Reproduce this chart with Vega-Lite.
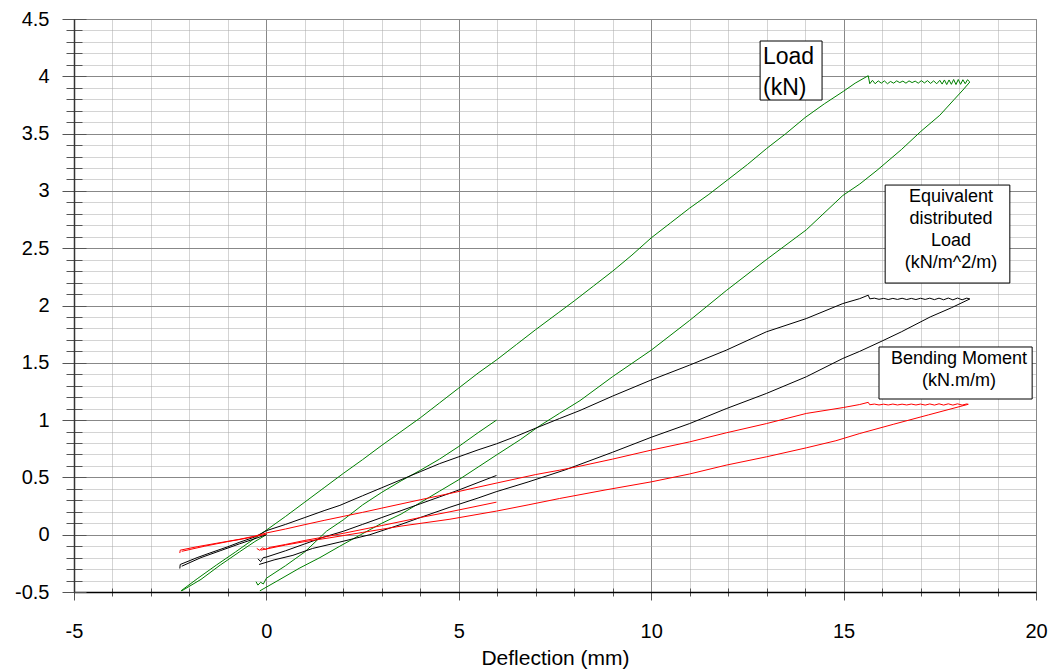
{
  "$schema": "https://vega.github.io/schema/vega-lite/v6.json",
  "width": 962,
  "height": 573,
  "autosize": {"type": "none"},
  "padding": {"left": 74, "top": 19, "right": 14, "bottom": 79},
  "background": "white",
  "config": {
    "view": {"stroke": "#888888"},
    "axis": {"labelFont": "Liberation Sans", "titleFont": "Liberation Sans", "labelColor": "#000000", "titleColor": "#000000", "tickColor": "#555555", "labelFlush": false, "labelOverlap": false}
  },
  "datasets": {
    "boxes": [
      {"x1": 12.83, "x2": 14.44, "y1": 4.308, "y2": 3.793},
      {"x1": 16.08, "x2": 19.32, "y1": 3.051, "y2": 2.196},
      {"x1": 15.92, "x2": 19.9, "y1": 1.638, "y2": 1.184}
    ],
    "load": [{"x": 12.905, "y": 4.168, "t": "Load\n(kN)"}],
    "notes": [
      {"x": 17.79, "y": 2.947, "t": "Equivalent\ndistributed\nLoad\n(kN/m^2/m)"},
      {"x": 18.0, "y": 1.533, "t": "Bending Moment\n(kN.m/m)"}
    ],
    "curves": [
      {"s":"Load","g":"G1","x":-2.22,"y":-0.49},{"s":"Load","g":"G1","x":-1.8,"y":-0.385},{"s":"Load","g":"G1","x":-1.3,"y":-0.265},{"s":"Load","g":"G1","x":-0.8,"y":-0.15},{"s":"Load","g":"G1","x":-0.4,"y":-0.055},{"s":"Load","g":"G1","x":0,"y":0.04},{"s":"Load","g":"G1","x":0.5,"y":0.16},{"s":"Load","g":"G1","x":1,"y":0.285},{"s":"Load","g":"G1","x":1.5,"y":0.41},{"s":"Load","g":"G1","x":2,"y":0.535},{"s":"Load","g":"G1","x":2.5,"y":0.655},{"s":"Load","g":"G1","x":3,"y":0.78},{"s":"Load","g":"G1","x":3.5,"y":0.9},{"s":"Load","g":"G1","x":4,"y":1.02},{"s":"Load","g":"G1","x":4.5,"y":1.15},{"s":"Load","g":"G1","x":5,"y":1.28},{"s":"Load","g":"G1","x":5.5,"y":1.41},{"s":"Load","g":"G1","x":6,"y":1.53},{"s":"Load","g":"G1","x":6.5,"y":1.66},{"s":"Load","g":"G1","x":7,"y":1.79},{"s":"Load","g":"G1","x":7.6,"y":1.94},{"s":"Load","g":"G1","x":8,"y":2.04},{"s":"Load","g":"G1","x":8.5,"y":2.17},{"s":"Load","g":"G1","x":9,"y":2.3},{"s":"Load","g":"G1","x":9.5,"y":2.44},{"s":"Load","g":"G1","x":10,"y":2.59},{"s":"Load","g":"G1","x":10.5,"y":2.72},{"s":"Load","g":"G1","x":11,"y":2.85},{"s":"Load","g":"G1","x":11.5,"y":2.97},{"s":"Load","g":"G1","x":12,"y":3.1},{"s":"Load","g":"G1","x":12.5,"y":3.23},{"s":"Load","g":"G1","x":13,"y":3.37},{"s":"Load","g":"G1","x":13.5,"y":3.5},{"s":"Load","g":"G1","x":14,"y":3.64},{"s":"Load","g":"G1","x":14.5,"y":3.76},{"s":"Load","g":"G1","x":15,"y":3.87},{"s":"Load","g":"G1","x":15.3,"y":3.94},{"s":"Load","g":"G1","x":15.64,"y":4.005},
      {"s":"Load","g":"G1","x":15.68,"y":3.935},{"s":"Load","g":"G1","x":15.75,"y":3.965},{"s":"Load","g":"G1","x":15.82,"y":3.935},{"s":"Load","g":"G1","x":15.9,"y":3.96},{"s":"Load","g":"G1","x":15.98,"y":3.94},{"s":"Load","g":"G1","x":16.06,"y":3.96},{"s":"Load","g":"G1","x":16.14,"y":3.935},{"s":"Load","g":"G1","x":16.22,"y":3.955},{"s":"Load","g":"G1","x":16.3,"y":3.94},{"s":"Load","g":"G1","x":16.38,"y":3.96},{"s":"Load","g":"G1","x":16.46,"y":3.945},{"s":"Load","g":"G1","x":16.54,"y":3.958},{"s":"Load","g":"G1","x":16.62,"y":3.94},{"s":"Load","g":"G1","x":16.7,"y":3.96},{"s":"Load","g":"G1","x":16.78,"y":3.945},{"s":"Load","g":"G1","x":16.86,"y":3.958},{"s":"Load","g":"G1","x":16.94,"y":3.94},{"s":"Load","g":"G1","x":17.02,"y":3.962},{"s":"Load","g":"G1","x":17.1,"y":3.942},{"s":"Load","g":"G1","x":17.18,"y":3.962},{"s":"Load","g":"G1","x":17.26,"y":3.938},{"s":"Load","g":"G1","x":17.34,"y":3.96},{"s":"Load","g":"G1","x":17.42,"y":3.935},{"s":"Load","g":"G1","x":17.5,"y":3.965},{"s":"Load","g":"G1","x":17.56,"y":3.932},{"s":"Load","g":"G1","x":17.62,"y":3.968},{"s":"Load","g":"G1","x":17.68,"y":3.928},{"s":"Load","g":"G1","x":17.74,"y":3.968},{"s":"Load","g":"G1","x":17.8,"y":3.93},{"s":"Load","g":"G1","x":17.86,"y":3.972},{"s":"Load","g":"G1","x":17.92,"y":3.928},{"s":"Load","g":"G1","x":17.98,"y":3.972},{"s":"Load","g":"G1","x":18.04,"y":3.93},{"s":"Load","g":"G1","x":18.1,"y":3.97},{"s":"Load","g":"G1","x":18.16,"y":3.935},{"s":"Load","g":"G1","x":18.22,"y":3.97},{"s":"Load","g":"G1","x":18.28,"y":3.95},
      {"s":"Load","g":"G2","x":-2.2,"y":-0.49},{"s":"Load","g":"G2","x":-1.7,"y":-0.39},{"s":"Load","g":"G2","x":-1.2,"y":-0.265},{"s":"Load","g":"G2","x":-0.7,"y":-0.15},{"s":"Load","g":"G2","x":-0.3,"y":-0.06},{"s":"Load","g":"G2","x":0,"y":0.0},
      {"s":"Load","g":"G3","x":-0.17,"y":-0.49},{"s":"Load","g":"G3","x":0.3,"y":-0.4},{"s":"Load","g":"G3","x":0.87,"y":-0.29},{"s":"Load","g":"G3","x":1.39,"y":-0.2},{"s":"Load","g":"G3","x":1.91,"y":-0.1},{"s":"Load","g":"G3","x":2.45,"y":0.0},{"s":"Load","g":"G3","x":3,"y":0.1},{"s":"Load","g":"G3","x":3.5,"y":0.18},{"s":"Load","g":"G3","x":4,"y":0.28},{"s":"Load","g":"G3","x":4.5,"y":0.38},{"s":"Load","g":"G3","x":5,"y":0.48},{"s":"Load","g":"G3","x":5.5,"y":0.59},{"s":"Load","g":"G3","x":6,"y":0.7},{"s":"Load","g":"G3","x":6.6,"y":0.83},{"s":"Load","g":"G3","x":7.1,"y":0.95},{"s":"Load","g":"G3","x":7.62,"y":1.06},{"s":"Load","g":"G3","x":8.15,"y":1.17},{"s":"Load","g":"G3","x":9,"y":1.38},{"s":"Load","g":"G3","x":10,"y":1.61},{"s":"Load","g":"G3","x":11,"y":1.87},{"s":"Load","g":"G3","x":11.95,"y":2.13},{"s":"Load","g":"G3","x":12.99,"y":2.4},{"s":"Load","g":"G3","x":14.03,"y":2.66},{"s":"Load","g":"G3","x":14.98,"y":2.96},{"s":"Load","g":"G3","x":15.42,"y":3.06},{"s":"Load","g":"G3","x":15.87,"y":3.18},{"s":"Load","g":"G3","x":16.5,"y":3.36},{"s":"Load","g":"G3","x":17.01,"y":3.52},{"s":"Load","g":"G3","x":17.5,"y":3.66},{"s":"Load","g":"G3","x":17.88,"y":3.8},{"s":"Load","g":"G3","x":18.1,"y":3.88},{"s":"Load","g":"G3","x":18.28,"y":3.95},
      {"s":"Load","g":"G4","x":-0.27,"y":-0.41},{"s":"Load","g":"G4","x":-0.22,"y":-0.44},{"s":"Load","g":"G4","x":-0.15,"y":-0.415},{"s":"Load","g":"G4","x":-0.08,"y":-0.43},{"s":"Load","g":"G4","x":0,"y":-0.38},{"s":"Load","g":"G4","x":0.5,"y":-0.27},{"s":"Load","g":"G4","x":1,"y":-0.15},{"s":"Load","g":"G4","x":1.56,"y":0.03},{"s":"Load","g":"G4","x":2,"y":0.13},{"s":"Load","g":"G4","x":2.5,"y":0.26},{"s":"Load","g":"G4","x":3,"y":0.37},{"s":"Load","g":"G4","x":3.5,"y":0.47},{"s":"Load","g":"G4","x":3.99,"y":0.56},{"s":"Load","g":"G4","x":4.5,"y":0.66},{"s":"Load","g":"G4","x":5,"y":0.77},{"s":"Load","g":"G4","x":5.5,"y":0.89},{"s":"Load","g":"G4","x":5.98,"y":1.0},
      {"s":"Equivalent","g":"B1","x":-2.25,"y":-0.295},{"s":"Equivalent","g":"B1","x":-2.24,"y":-0.26},{"s":"Equivalent","g":"B1","x":-1.8,"y":-0.2},{"s":"Equivalent","g":"B1","x":-1.47,"y":-0.16},{"s":"Equivalent","g":"B1","x":-1,"y":-0.105},{"s":"Equivalent","g":"B1","x":-0.69,"y":-0.065},{"s":"Equivalent","g":"B1","x":-0.3,"y":-0.02},{"s":"Equivalent","g":"B1","x":0,"y":0.035},{"s":"Equivalent","g":"B1","x":0.5,"y":0.09},{"s":"Equivalent","g":"B1","x":1,"y":0.15},{"s":"Equivalent","g":"B1","x":1.5,"y":0.21},{"s":"Equivalent","g":"B1","x":1.91,"y":0.256},{"s":"Equivalent","g":"B1","x":2.5,"y":0.34},{"s":"Equivalent","g":"B1","x":3,"y":0.41},{"s":"Equivalent","g":"B1","x":3.5,"y":0.48},{"s":"Equivalent","g":"B1","x":4,"y":0.55},{"s":"Equivalent","g":"B1","x":4.5,"y":0.62},{"s":"Equivalent","g":"B1","x":5,"y":0.68},{"s":"Equivalent","g":"B1","x":5.5,"y":0.74},{"s":"Equivalent","g":"B1","x":5.98,"y":0.793},{"s":"Equivalent","g":"B1","x":6.5,"y":0.86},{"s":"Equivalent","g":"B1","x":7,"y":0.93},{"s":"Equivalent","g":"B1","x":7.62,"y":1.014},{"s":"Equivalent","g":"B1","x":8.15,"y":1.084},{"s":"Equivalent","g":"B1","x":9,"y":1.21},{"s":"Equivalent","g":"B1","x":10,"y":1.35},{"s":"Equivalent","g":"B1","x":11,"y":1.48},{"s":"Equivalent","g":"B1","x":11.95,"y":1.61},{"s":"Equivalent","g":"B1","x":12.99,"y":1.77},{"s":"Equivalent","g":"B1","x":14.03,"y":1.886},{"s":"Equivalent","g":"B1","x":14.98,"y":2.017},{"s":"Equivalent","g":"B1","x":15.42,"y":2.06},{"s":"Equivalent","g":"B1","x":15.64,"y":2.09},
      {"s":"Equivalent","g":"B1","x":15.68,"y":2.058},{"s":"Equivalent","g":"B1","x":15.8,"y":2.064},{"s":"Equivalent","g":"B1","x":15.92,"y":2.054},{"s":"Equivalent","g":"B1","x":16.04,"y":2.062},{"s":"Equivalent","g":"B1","x":16.16,"y":2.052},{"s":"Equivalent","g":"B1","x":16.28,"y":2.062},{"s":"Equivalent","g":"B1","x":16.4,"y":2.053},{"s":"Equivalent","g":"B1","x":16.52,"y":2.063},{"s":"Equivalent","g":"B1","x":16.64,"y":2.052},{"s":"Equivalent","g":"B1","x":16.76,"y":2.062},{"s":"Equivalent","g":"B1","x":16.88,"y":2.052},{"s":"Equivalent","g":"B1","x":17,"y":2.063},{"s":"Equivalent","g":"B1","x":17.12,"y":2.053},{"s":"Equivalent","g":"B1","x":17.24,"y":2.064},{"s":"Equivalent","g":"B1","x":17.36,"y":2.051},{"s":"Equivalent","g":"B1","x":17.48,"y":2.064},{"s":"Equivalent","g":"B1","x":17.6,"y":2.05},{"s":"Equivalent","g":"B1","x":17.72,"y":2.065},{"s":"Equivalent","g":"B1","x":17.84,"y":2.049},{"s":"Equivalent","g":"B1","x":17.96,"y":2.065},{"s":"Equivalent","g":"B1","x":18.08,"y":2.05},{"s":"Equivalent","g":"B1","x":18.2,"y":2.064},{"s":"Equivalent","g":"B1","x":18.28,"y":2.057},
      {"s":"Equivalent","g":"B2","x":-2.2,"y":-0.275},{"s":"Equivalent","g":"B2","x":-1.7,"y":-0.2},{"s":"Equivalent","g":"B2","x":-1.2,"y":-0.14},{"s":"Equivalent","g":"B2","x":-0.7,"y":-0.08},{"s":"Equivalent","g":"B2","x":-0.3,"y":-0.035},{"s":"Equivalent","g":"B2","x":0,"y":0.0},
      {"s":"Equivalent","g":"B3","x":-0.19,"y":-0.26},{"s":"Equivalent","g":"B3","x":0.2,"y":-0.22},{"s":"Equivalent","g":"B3","x":0.69,"y":-0.18},{"s":"Equivalent","g":"B3","x":1.2,"y":-0.12},{"s":"Equivalent","g":"B3","x":1.91,"y":-0.064},{"s":"Equivalent","g":"B3","x":2.69,"y":0.0},{"s":"Equivalent","g":"B3","x":3.5,"y":0.09},{"s":"Equivalent","g":"B3","x":4,"y":0.15},{"s":"Equivalent","g":"B3","x":4.77,"y":0.24},{"s":"Equivalent","g":"B3","x":5.5,"y":0.32},{"s":"Equivalent","g":"B3","x":5.97,"y":0.375},{"s":"Equivalent","g":"B3","x":6.8,"y":0.46},{"s":"Equivalent","g":"B3","x":7.76,"y":0.565},{"s":"Equivalent","g":"B3","x":9,"y":0.72},{"s":"Equivalent","g":"B3","x":10,"y":0.85},{"s":"Equivalent","g":"B3","x":11,"y":0.97},{"s":"Equivalent","g":"B3","x":11.95,"y":1.1},{"s":"Equivalent","g":"B3","x":12.99,"y":1.232},{"s":"Equivalent","g":"B3","x":14.03,"y":1.378},{"s":"Equivalent","g":"B3","x":14.98,"y":1.538},{"s":"Equivalent","g":"B3","x":15.42,"y":1.6},{"s":"Equivalent","g":"B3","x":16,"y":1.69},{"s":"Equivalent","g":"B3","x":16.5,"y":1.77},{"s":"Equivalent","g":"B3","x":17.25,"y":1.9},{"s":"Equivalent","g":"B3","x":17.8,"y":1.98},{"s":"Equivalent","g":"B3","x":18.28,"y":2.057},
      {"s":"Equivalent","g":"B4","x":-0.22,"y":-0.21},{"s":"Equivalent","g":"B4","x":-0.15,"y":-0.235},{"s":"Equivalent","g":"B4","x":-0.08,"y":-0.2},{"s":"Equivalent","g":"B4","x":0,"y":-0.195},{"s":"Equivalent","g":"B4","x":0.5,"y":-0.14},{"s":"Equivalent","g":"B4","x":1,"y":-0.08},{"s":"Equivalent","g":"B4","x":1.5,"y":-0.02},{"s":"Equivalent","g":"B4","x":2,"y":0.03},{"s":"Equivalent","g":"B4","x":2.5,"y":0.09},{"s":"Equivalent","g":"B4","x":3,"y":0.15},{"s":"Equivalent","g":"B4","x":3.5,"y":0.21},{"s":"Equivalent","g":"B4","x":4,"y":0.27},{"s":"Equivalent","g":"B4","x":4.5,"y":0.33},{"s":"Equivalent","g":"B4","x":5,"y":0.39},{"s":"Equivalent","g":"B4","x":5.5,"y":0.455},{"s":"Equivalent","g":"B4","x":5.98,"y":0.517},
      {"s":"Bending","g":"R1","x":-2.25,"y":-0.16},{"s":"Bending","g":"R1","x":-2.24,"y":-0.135},{"s":"Bending","g":"R1","x":-1.8,"y":-0.105},{"s":"Bending","g":"R1","x":-1.3,"y":-0.075},{"s":"Bending","g":"R1","x":-0.7,"y":-0.04},{"s":"Bending","g":"R1","x":-0.3,"y":-0.012},{"s":"Bending","g":"R1","x":0,"y":0.015},{"s":"Bending","g":"R1","x":0.5,"y":0.05},{"s":"Bending","g":"R1","x":1,"y":0.088},{"s":"Bending","g":"R1","x":1.5,"y":0.125},{"s":"Bending","g":"R1","x":2,"y":0.16},{"s":"Bending","g":"R1","x":2.5,"y":0.195},{"s":"Bending","g":"R1","x":3,"y":0.232},{"s":"Bending","g":"R1","x":4,"y":0.305},{"s":"Bending","g":"R1","x":4.77,"y":0.36},{"s":"Bending","g":"R1","x":5.5,"y":0.415},{"s":"Bending","g":"R1","x":6,"y":0.452},{"s":"Bending","g":"R1","x":7,"y":0.525},{"s":"Bending","g":"R1","x":7.62,"y":0.563},{"s":"Bending","g":"R1","x":8.15,"y":0.598},{"s":"Bending","g":"R1","x":9,"y":0.66},{"s":"Bending","g":"R1","x":10,"y":0.738},{"s":"Bending","g":"R1","x":11,"y":0.81},{"s":"Bending","g":"R1","x":11.95,"y":0.889},{"s":"Bending","g":"R1","x":13,"y":0.97},{"s":"Bending","g":"R1","x":14.03,"y":1.058},{"s":"Bending","g":"R1","x":15,"y":1.11},{"s":"Bending","g":"R1","x":15.42,"y":1.136},{"s":"Bending","g":"R1","x":15.64,"y":1.155},
      {"s":"Bending","g":"R1","x":15.68,"y":1.134},{"s":"Bending","g":"R1","x":15.8,"y":1.14},{"s":"Bending","g":"R1","x":15.92,"y":1.132},{"s":"Bending","g":"R1","x":16.04,"y":1.139},{"s":"Bending","g":"R1","x":16.16,"y":1.132},{"s":"Bending","g":"R1","x":16.28,"y":1.14},{"s":"Bending","g":"R1","x":16.4,"y":1.132},{"s":"Bending","g":"R1","x":16.52,"y":1.139},{"s":"Bending","g":"R1","x":16.64,"y":1.132},{"s":"Bending","g":"R1","x":16.76,"y":1.14},{"s":"Bending","g":"R1","x":16.88,"y":1.132},{"s":"Bending","g":"R1","x":17,"y":1.14},{"s":"Bending","g":"R1","x":17.12,"y":1.131},{"s":"Bending","g":"R1","x":17.24,"y":1.141},{"s":"Bending","g":"R1","x":17.36,"y":1.131},{"s":"Bending","g":"R1","x":17.48,"y":1.142},{"s":"Bending","g":"R1","x":17.6,"y":1.131},{"s":"Bending","g":"R1","x":17.72,"y":1.142},{"s":"Bending","g":"R1","x":17.84,"y":1.131},{"s":"Bending","g":"R1","x":17.96,"y":1.142},{"s":"Bending","g":"R1","x":18.08,"y":1.131},{"s":"Bending","g":"R1","x":18.2,"y":1.141},{"s":"Bending","g":"R1","x":18.24,"y":1.138},
      {"s":"Bending","g":"R2","x":-2.2,"y":-0.145},{"s":"Bending","g":"R2","x":-1.6,"y":-0.1},{"s":"Bending","g":"R2","x":-1,"y":-0.06},{"s":"Bending","g":"R2","x":-0.5,"y":-0.03},{"s":"Bending","g":"R2","x":0,"y":0.005},
      {"s":"Bending","g":"R3","x":-0.15,"y":-0.135},{"s":"Bending","g":"R3","x":0.5,"y":-0.09},{"s":"Bending","g":"R3","x":1,"y":-0.06},{"s":"Bending","g":"R3","x":1.65,"y":-0.027},{"s":"Bending","g":"R3","x":2.5,"y":0.02},{"s":"Bending","g":"R3","x":3.5,"y":0.075},{"s":"Bending","g":"R3","x":4.77,"y":0.135},{"s":"Bending","g":"R3","x":5.98,"y":0.206},{"s":"Bending","g":"R3","x":6.8,"y":0.26},{"s":"Bending","g":"R3","x":7.62,"y":0.316},{"s":"Bending","g":"R3","x":8.8,"y":0.39},{"s":"Bending","g":"R3","x":10,"y":0.461},{"s":"Bending","g":"R3","x":11,"y":0.53},{"s":"Bending","g":"R3","x":11.95,"y":0.607},{"s":"Bending","g":"R3","x":13,"y":0.68},{"s":"Bending","g":"R3","x":14.03,"y":0.758},{"s":"Bending","g":"R3","x":14.8,"y":0.82},{"s":"Bending","g":"R3","x":15.42,"y":0.883},{"s":"Bending","g":"R3","x":16.29,"y":0.963},{"s":"Bending","g":"R3","x":17.2,"y":1.045},{"s":"Bending","g":"R3","x":18.24,"y":1.138},
      {"s":"Bending","g":"R4","x":-0.25,"y":-0.12},{"s":"Bending","g":"R4","x":-0.18,"y":-0.135},{"s":"Bending","g":"R4","x":-0.1,"y":-0.115},{"s":"Bending","g":"R4","x":-0.02,"y":-0.128},{"s":"Bending","g":"R4","x":0.1,"y":-0.11},{"s":"Bending","g":"R4","x":0.5,"y":-0.085},{"s":"Bending","g":"R4","x":1,"y":-0.05},{"s":"Bending","g":"R4","x":1.5,"y":-0.02},{"s":"Bending","g":"R4","x":2,"y":0.012},{"s":"Bending","g":"R4","x":3,"y":0.08},{"s":"Bending","g":"R4","x":4,"y":0.15},{"s":"Bending","g":"R4","x":4.77,"y":0.2},{"s":"Bending","g":"R4","x":5.98,"y":0.284}
    ]
  },
  "layer": [
    {
      "data": {"name": "boxes"},
      "mark": {"type": "rect", "fill": "white", "stroke": "#000000", "strokeWidth": 1},
      "encoding": {
        "x": {"field": "x1", "type": "quantitative", "scale": {"domain": [-5, 20], "nice": false, "zero": false},
          "axis": {"orient": "bottom", "values": [-4,-3,-2,-1,1,2,3,4,6,7,8,9,11,12,13,14,16,17,18,19], "offset": -4, "tickSize": 8, "labels": false, "domain": false, "title": null, "grid": true, "gridColor": "#a8a8a8", "gridDash": [1, 1]}},
        "x2": {"field": "x2"},
        "y": {"field": "y1", "type": "quantitative", "scale": {"domain": [-0.5, 4.5], "nice": false, "zero": false},
          "axis": {"orient": "left", "values": [-0.4,-0.3,-0.2,-0.1,0.1,0.2,0.3,0.4,0.6,0.7,0.8,0.9,1.1,1.2,1.3,1.4,1.6,1.7,1.8,1.9,2.1,2.2,2.3,2.4,2.6,2.7,2.8,2.9,3.1,3.2,3.3,3.4,3.6,3.7,3.8,3.9,4.1,4.2,4.3,4.4], "offset": -8, "tickSize": 16, "labels": false, "domain": false, "title": null, "grid": true, "gridColor": "#a8a8a8", "gridDash": [1, 1]}},
        "y2": {"field": "y2"}
      }
    },
    {
      "data": {"name": "curves"},
      "mark": {"type": "line", "strokeWidth": 1},
      "encoding": {
        "x": {"field": "x", "type": "quantitative", "scale": {"domain": [-5, 20], "nice": false, "zero": false},
          "axis": {"orient": "bottom", "values": [-5, 0, 5, 10, 15, 20], "offset": 0, "tickSize": 8, "labelPadding": 21, "labelFontSize": 20, "labelExpr": "'' + datum.value", "domain": false, "title": null, "grid": true, "gridColor": "#888888"}},
        "y": {"field": "y", "type": "quantitative", "scale": {"domain": [-0.5, 4.5], "nice": false, "zero": false},
          "axis": {"orient": "left", "values": [-0.5, 0, 0.5, 1, 1.5, 2, 2.5, 3, 3.5, 4, 4.5], "offset": -12, "tickSize": 24, "labelPadding": 13, "labelFontSize": 20, "labelExpr": "'' + datum.value", "domain": false, "title": null, "grid": true, "gridColor": "#888888"}},
        "color": {"field": "s", "type": "nominal", "scale": {"domain": ["Load", "Equivalent", "Bending"], "range": ["#008000", "#000000", "#ff0000"]}, "legend": null},
        "detail": {"field": "g"}
      }
    },
    {
      "data": {"name": "load"},
      "mark": {"type": "text", "align": "left", "baseline": "middle", "fontSize": 23, "lineHeight": 31, "lineBreak": "\n", "font": "Liberation Sans", "color": "#000000"},
      "encoding": {
        "x": {"field": "x", "type": "quantitative", "scale": {"domain": [-5, 20], "nice": false, "zero": false},
          "axis": {"orient": "bottom", "ticks": false, "labels": false, "grid": false, "domain": true, "domainColor": "#000000", "domainWidth": 1.5, "title": "Deflection (mm)", "titleFontSize": 21, "titleFontWeight": "normal", "titlePadding": 55}},
        "y": {"field": "y", "type": "quantitative", "scale": {"domain": [-0.5, 4.5], "nice": false, "zero": false},
          "axis": {"orient": "left", "ticks": false, "labels": false, "grid": false, "domain": true, "domainColor": "#333333", "domainWidth": 1.5, "title": null}},
        "text": {"field": "t"}
      }
    },
    {
      "data": {"name": "notes"},
      "mark": {"type": "text", "align": "center", "baseline": "middle", "fontSize": 18, "lineHeight": 22, "lineBreak": "\n", "font": "Liberation Sans", "color": "#000000"},
      "encoding": {
        "x": {"field": "x", "type": "quantitative", "scale": {"domain": [-5, 20], "nice": false, "zero": false}, "axis": null},
        "y": {"field": "y", "type": "quantitative", "scale": {"domain": [-0.5, 4.5], "nice": false, "zero": false}, "axis": null},
        "text": {"field": "t"}
      }
    }
  ],
  "resolve": {"axis": {"x": "independent", "y": "independent"}}
}
